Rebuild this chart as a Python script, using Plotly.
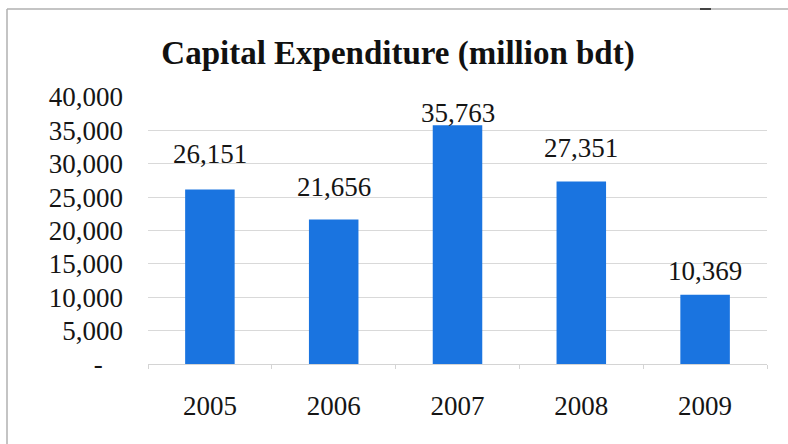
import plotly.graph_objects as go

# Capital expenditure by year, million bdt
years = ["2005", "2006", "2007", "2008", "2009"]
capex = [26151, 21656, 35763, 27351, 10369]
value_labels = ["26,151", "21,656", "35,763", "27,351", "10,369"]

# Value axis ticks (accounting style: zero shown as a dash)
y_tickvals = [0, 5000, 10000, 15000, 20000, 25000, 30000, 35000, 40000]
y_ticktext = ["-\u00a0\u00a0\u00a0", "5,000", "10,000", "15,000", "20,000",
              "25,000", "30,000", "35,000", "40,000"]

# Vertical offsets (px) of each value label above its bar
label_offsets = [35, 32, 12, 33, 24]

W, H = 788, 444
ML, MR, MT, MB = 148, 21, 97, 80
PW, PH = W - ML - MR, H - MT - MB

def px_to_paper_x(px):
    return (px - ML) / PW

def px_to_paper_y(py):
    return (H - MB - py) / PH

SERIF = "Liberation Serif, Times New Roman, serif"
TEXT = "#151515"
BAR = "#1a74e0"

fig = go.Figure()
fig.add_trace(go.Bar(
    x=years,
    y=capex,
    marker=dict(color=BAR, line=dict(width=0)),
    hoverinfo="x+y",
))

# Value labels; on a category axis the annotation x is the category index
for i, (val, lab, off) in enumerate(zip(capex, value_labels, label_offsets)):
    fig.add_annotation(
        x=i, y=val, text=lab, showarrow=False,
        yanchor="middle", yshift=off,
        font=dict(family=SERIF, size=27, color=TEXT),
    )

# Chart frame (left and top edges)
frame = "#c4c4c4"
fig.add_shape(type="line", xref="paper", yref="paper",
              x0=px_to_paper_x(7), x1=px_to_paper_x(7),
              y0=px_to_paper_y(9), y1=px_to_paper_y(450),
              line=dict(color=frame, width=2))
fig.add_shape(type="line", xref="paper", yref="paper",
              x0=px_to_paper_x(7), x1=px_to_paper_x(800),
              y0=px_to_paper_y(9), y1=px_to_paper_y(9),
              line=dict(color="#b0b0b0", width=1.5))
fig.add_shape(type="line", xref="paper", yref="paper",
              x0=px_to_paper_x(700), x1=px_to_paper_x(711),
              y0=px_to_paper_y(9), y1=px_to_paper_y(9),
              line=dict(color="#444444", width=2))

fig.update_layout(
    width=W, height=H,
    margin=dict(l=ML, r=MR, t=MT, b=MB, pad=0),
    paper_bgcolor="white",
    plot_bgcolor="white",
    bargap=0.6,
    showlegend=False,
    title=dict(
        text="<b>Capital Expenditure (million bdt)</b>",
        x=398 / W, xref="container", xanchor="center",
        y=1 - 52 / H, yref="container", yanchor="middle",
        font=dict(family=SERIF, size=33, color="#111111"),
    ),
    xaxis=dict(
        type="category",
        range=[-0.5, len(years) - 0.5],
        automargin=False,
        tickangle=0,
        showgrid=False,
        showline=True, linecolor="#d4d4d4", linewidth=1,
        ticks="outside", tickson="boundaries", ticklen=4, tickcolor="#d4d4d4",
        ticklabelstandoff=18,
        tickfont=dict(family=SERIF, size=27, color=TEXT),
        fixedrange=True,
    ),
    yaxis=dict(
        range=[0, 40000],
        automargin=False,
        tickvals=y_tickvals,
        ticktext=y_ticktext,
        showgrid=True, gridcolor="#d9d9d9", gridwidth=1,
        zeroline=False,
        showline=False,
        ticks="",
        ticklabelstandoff=24,
        tickfont=dict(family=SERIF, size=27, color=TEXT),
        fixedrange=True,
    ),
)

fig.write_html("out.html")
